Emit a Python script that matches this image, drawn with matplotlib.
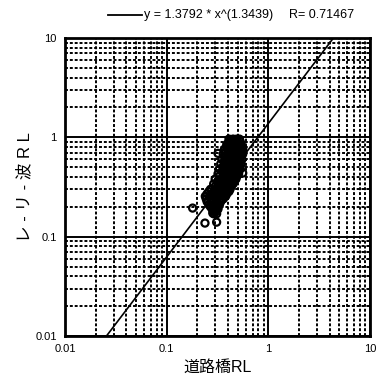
import matplotlib
matplotlib.use("Agg")
import matplotlib.pyplot as plt
from matplotlib.lines import Line2D
import numpy as np

plt.rcParams['font.family'] = ['Liberation Sans', 'Noto Sans CJK JP', 'DejaVu Sans']

# scatter data (レーリー波RL level -> 道路橋RL values)
rayleigh_levels = [0.96, 0.90, 0.85, 0.80, 0.76, 0.72, 0.68, 0.64, 0.60, 0.57,
                   0.54, 0.51, 0.48, 0.455, 0.43, 0.405, 0.38, 0.36, 0.34, 0.32,
                   0.30, 0.285, 0.27, 0.255, 0.24, 0.225, 0.21, 0.20, 0.19, 0.18,
                   0.17]
bridge_rows = [
    [0.41, 0.45, 0.49, 0.52],
    [0.41, 0.45, 0.49, 0.53],
    [0.39, 0.43, 0.47, 0.51, 0.54],
    [0.39, 0.43, 0.47, 0.51, 0.55],
    [0.37, 0.41, 0.45, 0.49, 0.53, 0.56],
    [0.38, 0.42, 0.46, 0.50, 0.54],
    [0.36, 0.40, 0.44, 0.48, 0.52, 0.56],
    [0.37, 0.41, 0.46, 0.50, 0.54],
    [0.35, 0.39, 0.43, 0.47, 0.51, 0.55],
    [0.37, 0.41, 0.45, 0.49, 0.53],
    [0.34, 0.38, 0.42, 0.46, 0.50, 0.54],
    [0.36, 0.40, 0.44, 0.48, 0.52],
    [0.33, 0.37, 0.41, 0.45, 0.49, 0.53],
    [0.35, 0.39, 0.43, 0.47, 0.51],
    [0.32, 0.36, 0.40, 0.44, 0.48, 0.51],
    [0.33, 0.37, 0.41, 0.45, 0.49],
    [0.30, 0.34, 0.38, 0.42, 0.46, 0.48],
    [0.32, 0.355, 0.39, 0.43, 0.46],
    [0.29, 0.32, 0.35, 0.39, 0.43, 0.45],
    [0.30, 0.33, 0.37, 0.41, 0.43],
    [0.27, 0.30, 0.33, 0.37, 0.40, 0.42],
    [0.26, 0.29, 0.32, 0.35, 0.38, 0.41],
    [0.25, 0.28, 0.31, 0.34, 0.37, 0.39],
    [0.24, 0.27, 0.30, 0.33, 0.36, 0.38],
    [0.245, 0.275, 0.305, 0.335, 0.36],
    [0.25, 0.28, 0.31, 0.34],
    [0.26, 0.29, 0.32, 0.33],
    [0.27, 0.30, 0.32],
    [0.28, 0.30, 0.32],
    [0.29, 0.31],
    [0.29, 0.31],
]
outlier_bridge = [0.18, 0.238, 0.31, 0.284, 0.56, 0.32, 0.37]
outlier_rayleigh = [0.194, 0.137, 0.14, 0.173, 0.437, 0.69, 0.27]

fit_a = 1.3792
fit_b = 1.3439
fit_r = 0.71467

bridge_rl = [x for row in bridge_rows for x in row] + outlier_bridge
rayleigh_rl = [y for y, row in zip(rayleigh_levels, bridge_rows) for _ in row] + outlier_rayleigh

W, H = 385, 380
fig = plt.figure(figsize=(W / 100, H / 100), dpi=100)
ax = fig.add_axes([65/W, 1-336/H, 305/W, 298/H])
ax.set_xscale('log')
ax.set_yscale('log')
ax.set_xlim(0.01, 10)
ax.set_ylim(0.01, 10)

ax.grid(True, which='major', color='black', linewidth=1.4, linestyle='-')
ax.grid(True, which='minor', color='black', linewidth=1.4, linestyle=(0, (1.5, 1.0)))
ax.set_axisbelow(True)

xf = np.logspace(-2, 1, 200)
ax.plot(xf, fit_a * xf ** fit_b, color='black', linewidth=1.2, zorder=3)

ax.scatter(bridge_rl, rayleigh_rl, s=26, facecolors='none', edgecolors='black',
           linewidths=1.6, zorder=4)

ax.set_xticks([0.01, 0.1, 1, 10])
ax.set_xticklabels(['0.01', '0.1', '1', '10'])
ax.set_yticks([0.01, 0.1, 1, 10])
ax.set_yticklabels(['0.01', '0.1', '1', '10'])
ax.tick_params(which='both', length=0, labelsize=8, pad=6)
for s in ax.spines.values():
    s.set_linewidth(2)

ax.set_xlabel('道路橋RL', fontsize=11.5, labelpad=4)
ax.set_ylabel('レ - リ - 波 R L', fontsize=12, labelpad=2)

# legend above the plot
ly = 1 - 15/H
fig.add_artist(Line2D([108/W, 142/W], [ly, ly], color='black', linewidth=1.3))
fig.text(144/W, ly, f'y = {fit_a} * x^({fit_b})', fontsize=9, va='center', ha='left')
fig.text(289/W, ly, f'R= {fit_r}', fontsize=9, va='center', ha='left')

fig.savefig('out.png', dpi=100)
